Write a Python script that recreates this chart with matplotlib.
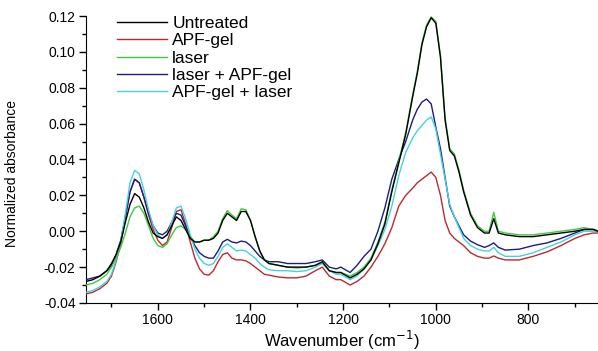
import matplotlib
matplotlib.use("Agg")
import matplotlib.pyplot as plt
from matplotlib.ticker import MultipleLocator

plt.rcParams['font.family'] = ['Liberation Sans', 'DejaVu Sans']

# wavenumber grid (cm-1)
wavenumber = [1755, 1740, 1725, 1710, 1700, 1690, 1680, 1670, 1660, 1650, 1640, 1630, 1620, 1610, 1600,
              1590, 1580, 1570, 1560, 1550, 1540, 1530, 1520, 1510, 1500, 1490, 1480, 1470, 1460, 1450,
              1440, 1430, 1420, 1410, 1400, 1390, 1380, 1370, 1360,
              1340, 1320, 1300, 1280, 1260, 1245, 1230, 1215, 1205, 1185, 1170, 1155, 1140, 1125, 1110,
              1095, 1080, 1065, 1050,
              1040, 1030, 1020, 1010, 1000, 990, 980, 970, 960, 950, 940, 925, 910, 895, 885, 875, 865, 850,
              820, 790, 760, 730, 700, 680, 660, 650]

untreated = [-0.028, -0.027, -0.025, -0.022, -0.018, -0.013, -0.006, 0.005, 0.015, 0.021, 0.019, 0.013, 0.005, -0.001, -0.003,
             -0.004, -0.002, 0.003, 0.008, 0.006, 0.001, -0.004, -0.006, -0.006, -0.005, -0.005, -0.004, -0.001, 0.006, 0.010,
             0.008, 0.006, 0.011, 0.011, 0.006, -0.003, -0.011, -0.016, -0.018,
             -0.019, -0.020, -0.020, -0.020, -0.019, -0.017, -0.022, -0.023, -0.023, -0.026, -0.024, -0.021, -0.016, -0.007, 0.004,
             0.022, 0.038, 0.054, 0.075,
             0.088, 0.104, 0.114, 0.119, 0.116, 0.097, 0.062, 0.045, 0.042, 0.033, 0.022, 0.009, 0.002, -0.001, -0.001, 0.007, -0.001, -0.002,
             -0.003, -0.003, -0.002, -0.001, 0.000, 0.001, 0.001, 0.000]

apf_gel = [-0.035, -0.034, -0.032, -0.029, -0.025, -0.017, -0.007, 0.008, 0.022, 0.029, 0.027, 0.019, 0.009, 0.001, -0.005,
           -0.008, -0.006, 0.002, 0.011, 0.012, 0.004, -0.006, -0.015, -0.021, -0.024, -0.0245, -0.022, -0.017, -0.013, -0.012,
           -0.015, -0.016, -0.016, -0.0165, -0.018, -0.020, -0.022, -0.024, -0.0245,
           -0.0255, -0.026, -0.026, -0.025, -0.022, -0.020, -0.025, -0.027, -0.027, -0.030, -0.028, -0.025, -0.020, -0.014, -0.007,
           0.002, 0.014, 0.020, 0.024,
           0.027, 0.029, 0.031, 0.033, 0.030, 0.020, 0.006, -0.001, -0.004, -0.006, -0.008, -0.012, -0.014, -0.015, -0.015, -0.0138, -0.015, -0.016,
           -0.016, -0.014, -0.0115, -0.008, -0.004, -0.002, -0.001, -0.001]

laser = [-0.030, -0.029, -0.027, -0.024, -0.020, -0.015, -0.009, -0.001, 0.008, 0.013, 0.014, 0.010, 0.003, -0.004, -0.008,
         -0.009, -0.007, -0.002, 0.002, 0.003, 0.001, -0.003, -0.006, -0.006, -0.005, -0.005, -0.003, 0.000, 0.007, 0.0115,
         0.009, 0.007, 0.0125, 0.012, 0.006, -0.003, -0.011, -0.016, -0.018,
         -0.019, -0.020, -0.0205, -0.020, -0.019, -0.0175, -0.022, -0.023, -0.023, -0.025, -0.023, -0.020, -0.015, -0.006, 0.005,
         0.023, 0.039, 0.055, 0.076,
         0.089, 0.105, 0.115, 0.1195, 0.117, 0.098, 0.063, 0.046, 0.043, 0.034, 0.023, 0.010, 0.003, 0.000, 0.000, 0.0105, 0.000, -0.001,
         -0.002, -0.002, -0.001, 0.000, 0.001, 0.002, 0.001, 0.000]

laser_apf = [-0.027, -0.026, -0.025, -0.022, -0.019, -0.013, -0.005, 0.008, 0.022, 0.029, 0.027, 0.019, 0.010, 0.003, -0.001,
             -0.002, 0.000, 0.005, 0.010, 0.009, 0.003, -0.003, -0.008, -0.012, -0.014, -0.015, -0.015, -0.011, -0.006, -0.0045,
             -0.006, -0.0065, -0.0055, -0.006, -0.008, -0.011, -0.014, -0.016, -0.017,
             -0.017, -0.018, -0.018, -0.018, -0.017, -0.016, -0.020, -0.021, -0.020, -0.023, -0.019, -0.014, -0.010, 0.000, 0.013,
             0.029, 0.040, 0.050, 0.062,
             0.068, 0.072, 0.0737, 0.071, 0.058, 0.046, 0.030, 0.014, 0.008, 0.003, -0.002, -0.0055, -0.0075, -0.009, -0.008, -0.0065, -0.009, -0.0105,
             -0.010, -0.008, -0.0065, -0.004, -0.001, 0.001, 0.001, 0.000]

apf_laser = [-0.034, -0.033, -0.031, -0.028, -0.024, -0.016, -0.006, 0.010, 0.027, 0.034, 0.032, 0.023, 0.012, 0.003, -0.002,
             -0.004, -0.002, 0.005, 0.013, 0.014, 0.007, -0.002, -0.010, -0.015, -0.018, -0.019, -0.018, -0.014, -0.009, -0.007,
             -0.009, -0.011, -0.0105, -0.011, -0.013, -0.015, -0.018, -0.020, -0.0215,
             -0.022, -0.022, -0.0225, -0.022, -0.020, -0.018, -0.022, -0.024, -0.024, -0.027, -0.025, -0.021, -0.016, -0.008, 0.001,
             0.014, 0.031, 0.044, 0.052,
             0.056, 0.059, 0.062, 0.0637, 0.057, 0.043, 0.029, 0.015, 0.008, 0.002, -0.004, -0.008, -0.010, -0.011, -0.011, -0.009, -0.012, -0.014,
             -0.014, -0.012, -0.009, -0.006, -0.002, 0.000, 0.000, 0.000]

labels = ['Untreated', 'APF-gel', 'laser', 'laser + APF-gel', 'APF-gel + laser']
series = [untreated, apf_gel, laser, laser_apf, apf_laser]
colors = ['#000000', '#c0282d', '#3ccc3c', '#1c1c85', '#45d2e0']
zorders = [5, 3, 4, 3, 3]

fig = plt.figure(figsize=(5.98, 3.51), dpi=100)
ax = fig.add_axes([0.1438, 0.1368, 0.8562, 0.8176])

for y, lab, c, z in zip(series, labels, colors, zorders):
    ax.plot(wavenumber, y, color=c, lw=1.0, label=lab, zorder=z)

ax.set_xlim(1755, 650)
ax.set_ylim(-0.04, 0.12)
ax.xaxis.set_major_locator(MultipleLocator(200))
ax.xaxis.set_minor_locator(MultipleLocator(100))
ax.yaxis.set_major_locator(MultipleLocator(0.02))
ax.yaxis.set_minor_locator(MultipleLocator(0.01))
ax.yaxis.set_major_formatter(plt.FuncFormatter(lambda v, p: f"{v:.2f}"))

for s in ['top', 'right']:
    ax.spines[s].set_visible(False)
ax.tick_params(which='major', direction='out', length=5, width=1, labelsize=10, pad=2.5)
ax.tick_params(which='minor', direction='out', length=3, width=1)

ax.set_xlabel('Wavenumber (cm$^{-1}$)', fontsize=12, labelpad=1)
ax.set_ylabel('Normalized absorbance', fontsize=10)
ax.yaxis.set_label_coords(-0.13, 0.45)

ax.legend(loc='upper left', bbox_to_anchor=(0.06, 1.0), frameon=False, fontsize=12.5,
          borderpad=0, borderaxespad=0, labelspacing=0.12, handlelength=2.9, handletextpad=0.3)

fig.savefig('out.png', dpi=100)
